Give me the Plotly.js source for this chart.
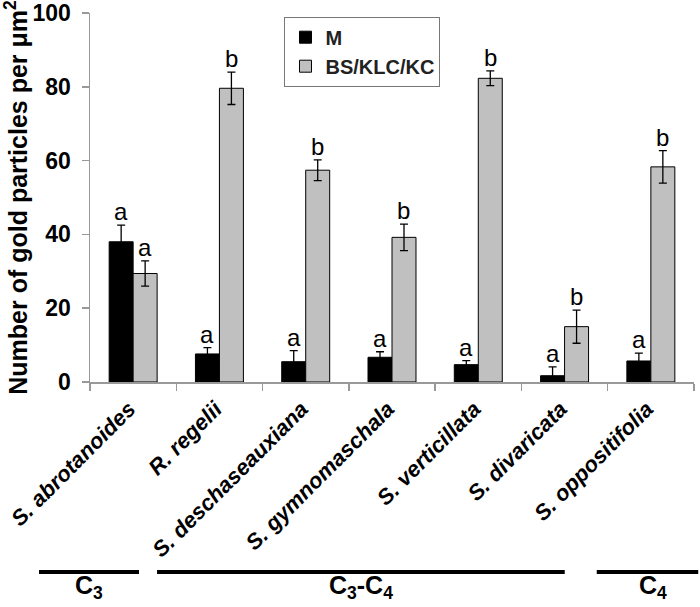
<!DOCTYPE html>
<html>
<head>
<meta charset="utf-8">
<script src="https://cdn.plot.ly/plotly-3.0.1.min.js"></script>
<style>html,body{margin:0;padding:0;background:#fff;}#chart{width:700px;height:607px;}</style>
</head>
<body>
<div id="chart"></div>
<script>
const species = ["S. abrotanoides", "R. regelii", "S. deschaseauxiana", "S. gymnomaschala", "S. verticillata", "S. divaricata", "S. oppositifolia"];
const mValues = [38.0, 7.6, 5.5, 6.7, 4.7, 1.7, 5.7];
const mErrors = [4.5, 1.7, 3.0, 1.5, 1.1, 2.4, 2.1];
const bsValues = [29.4, 79.6, 57.4, 39.2, 82.3, 15.0, 58.3];
const bsErrors = [3.4, 4.4, 2.8, 3.6, 2.0, 4.5, 4.4];
const mLetters = ["a", "a", "a", "a", "a", "a", "a"];
const bsLetters = ["a", "b", "b", "b", "b", "b", "b"];
const groups = ["C<sub>3</sub>", "C<sub>3</sub>-C<sub>4</sub>", "C<sub>4</sub>"];

const bargap = 0.444;
const half = (1 - bargap) / 4;

const traces = [
  {
    type: "bar", name: "M", x: species, y: mValues,
    marker: {color: "#000000", line: {color: "#000000", width: 1}},
    error_y: {type: "data", array: mErrors, visible: true, color: "#000000", thickness: 1.3, width: 4}
  },
  {
    type: "bar", name: "BS/KLC/KC", x: species, y: bsValues,
    marker: {color: "#c0c0c0", line: {color: "#000000", width: 1}},
    error_y: {type: "data", array: bsErrors, visible: true, color: "#000000", thickness: 1.3, width: 4}
  }
];

const annotations = [];
species.forEach((s, i) => {
  annotations.push({x: i - half, y: mValues[i] + mErrors[i], xref: "x", yref: "y", text: mLetters[i],
    showarrow: false, yanchor: "bottom", yshift: -2, font: {family: "Arial, Liberation Sans", size: 24, color: "#000"}});
  annotations.push({x: i + half, y: bsValues[i] + bsErrors[i], xref: "x", yref: "y", text: bsLetters[i],
    showarrow: false, yanchor: "bottom", yshift: -2, font: {family: "Arial, Liberation Sans", size: 24, color: "#000"}});
});
const groupLabelX = [-0.002, 0.449, 0.932];
groups.forEach((g, i) => {
  annotations.push({x: groupLabelX[i], y: -0.555, xref: "paper", yref: "paper", text: g, showarrow: false,
    xanchor: "center", yanchor: "middle",
    font: {family: "Liberation Sans Narrow, Arial Narrow, Arial", size: 25, weight: "bold", color: "#000"}});
});

const groupLines = [[-0.0844, 0.0811], [0.111, 0.786], [0.839, 1.007]];
const shapes = groupLines.map(([a, b]) => ({
  type: "line", xref: "paper", yref: "paper", x0: a, x1: b, y0: -0.515, y1: -0.515,
  line: {color: "#000", width: 4}
}));

const layout = {
  width: 700, height: 607,
  margin: {l: 90, r: 6, t: 13, b: 225},
  paper_bgcolor: "#fff", plot_bgcolor: "#fff",
  barmode: "group", bargap: bargap, bargroupgap: 0,
  showlegend: true,
  legend: {x: 0.322, y: 0.99, xanchor: "left", yanchor: "top", bgcolor: "#fff",
    bordercolor: "#777", borderwidth: 1, itemwidth: 30, tracegroupgap: 6,
    font: {family: "Arial, Liberation Sans", size: 20, weight: "bold", color: "#222"}},
  xaxis: {
    type: "category", showgrid: false, zeroline: false,
    showline: true, linecolor: "#999", linewidth: 1.5,
    ticks: "outside", tickson: "boundaries", ticklen: 7, tickcolor: "#999", tickwidth: 1.5,
    tickangle: -45, ticklabelshift: -4, ticklabelstandoff: 4,
    tickfont: {family: "Arial, Liberation Sans", size: 22, style: "italic", weight: "bold", color: "#000"},
    automargin: false
  },
  yaxis: {
    range: [0, 100], tickvals: [0, 20, 40, 60, 80, 100], showgrid: false, zeroline: false,
    showline: true, linecolor: "#999", linewidth: 1.5,
    ticks: "outside", ticklen: 7, tickcolor: "#999", tickwidth: 1.5,
    tickfont: {family: "Arial, Liberation Sans", size: 23, weight: "bold", color: "#000"},
    ticklabelstandoff: 6,
    title: {text: "Number of gold particles per μm<sup>2</sup>", standoff: 2,
      font: {family: "Arial, Liberation Sans", size: 25, weight: "bold", color: "#000"}},
    automargin: false
  },
  annotations: annotations,
  shapes: shapes
};

Plotly.newPlot("chart", traces, layout, {displayModeBar: false, staticPlot: true});
</script>
</body>
</html>
